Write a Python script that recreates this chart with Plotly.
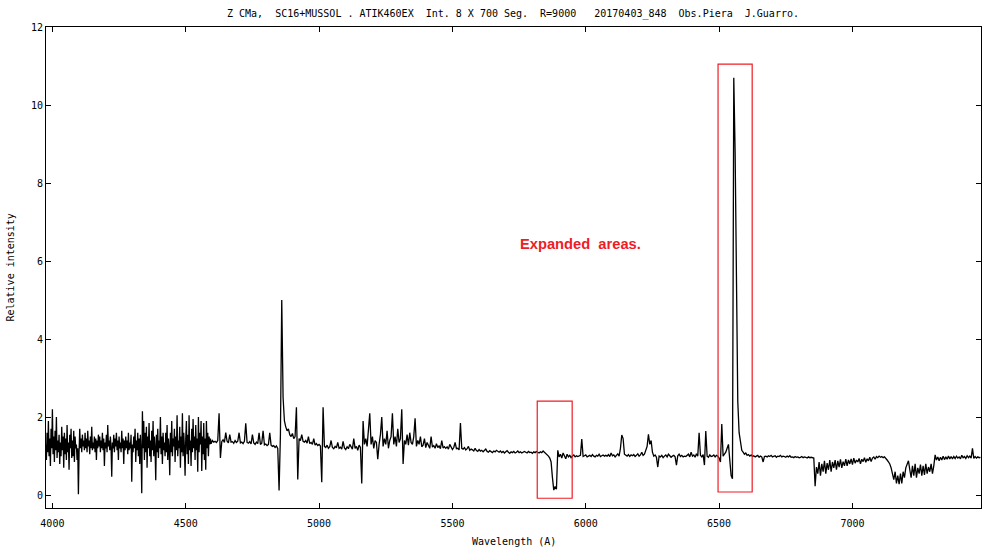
import numpy as np
import plotly.graph_objects as go

# ---- Data ----
# Blue part (noisy, sampled every 2.5 A): 3975.0 ... 4597.5
blue_start, blue_step = 3975.0, 2.5
flux_blue = [
    # 3975-4022.5
    1.3, 0.9, 1.6, 1.1, 1.9, 1.0, 1.45, 0.75, 1.7, 1.2, 2.2, 1.05, 1.5, 0.85, 1.65, 1.15, 2.0, 0.95, 1.4, 1.1,
    # 4025-4072.5
    1.55, 0.8, 1.35, 1.0, 1.75, 1.15, 1.5, 0.7, 1.6, 1.05, 1.45, 0.9, 1.8, 1.1, 1.35, 0.65, 1.55, 1.2, 1.7, 0.95,
    # 4075-4122.5
    1.4, 1.0, 1.65, 0.85, 1.5, 1.2, 1.3, 0.9, 1.2, 0.02, 1.1, 1.7, 1.2, 1.45, 1.1, 1.55, 1.25, 1.4, 1.15, 1.6,
    # 4125-4172.5
    1.2, 1.45, 1.1, 1.65, 1.25, 1.4, 1.05, 1.5, 1.2, 1.75, 1.15, 1.35, 1.2, 1.5, 1.1, 1.45, 0.9, 1.4, 1.2, 1.55,
    # 4175-4222.5
    1.25, 1.5, 1.1, 1.4, 1.2, 1.6, 1.15, 1.45, 0.75, 1.35, 1.2, 1.55, 1.1, 1.8, 1.25, 1.4, 1.15, 1.5, 1.2, 0.47,
    # 4225-4272.5
    1.35, 1.2, 1.55, 1.1, 1.45, 1.25, 1.6, 1.15, 1.4, 0.9, 1.5, 1.2, 1.35, 1.1, 1.65, 1.2, 1.45, 0.8, 1.4, 1.15,
    # 4275-4322.5
    1.5, 1.2, 1.4, 1.05, 1.6, 1.15, 1.35, 1.2, 1.55, 0.34, 1.3, 1.1, 1.5, 1.2, 1.7, 0.85, 1.4, 1.15, 1.6, 1.0,
    # 4325-4372.5
    1.45, 0.8, 1.55, 1.1, 0.05, 2.15, 1.2, 1.9, 0.9, 1.6, 1.1, 1.75, 0.7, 1.5, 1.2, 1.85, 1.0, 1.4, 0.85, 1.65,
    # 4375-4422.5
    1.15, 1.9, 1.0, 1.5, 1.2, 0.38, 1.55, 1.1, 1.7, 0.95, 1.4, 1.2, 2.0, 1.05, 1.5, 0.8, 1.6, 1.15, 1.35, 1.0,
    # 4425-4472.5
    1.6, 1.1, 1.8, 0.9, 1.45, 1.2, 0.51, 1.6, 1.1, 1.9, 1.0, 1.45, 1.25, 1.7, 0.85, 1.5, 1.15, 2.05, 1.0, 1.4,
    # 4475-4522.5
    1.2, 1.75, 0.7, 1.5, 1.1, 2.1, 1.0, 1.6, 1.2, 0.5, 1.45, 1.9, 1.05, 1.55, 0.8, 2.05, 1.15, 1.4, 0.75, 1.7,
    # 4525-4572.5
    1.1, 1.95, 1.2, 1.5, 0.9, 1.8, 1.15, 1.45, 0.6, 2.0, 1.1, 1.6, 1.3, 1.9, 0.62, 1.5, 1.05, 1.85, 0.9, 1.45,
    # 4575-4597.5
    0.65, 1.9, 1.2, 1.6, 1.0, 1.5, 1.3, 1.45, 1.32, 1.4,
]

# Red part (sampled every 5 A): 4600 ... 7480
red_start, red_step = 4600.0, 5.0
flux_red = [
    # 4600-4670
    1.4, 1.36, 1.38, 1.35, 1.4, 2.1, 0.95, 1.37, 1.42, 1.35, 1.6, 1.38, 1.34, 1.55, 1.36,
    # 4675-4770
    1.37, 1.33, 1.4, 1.35, 1.38, 1.6, 1.34, 1.36, 1.32, 1.38, 1.84, 1.35, 1.33, 1.37, 1.31, 1.55, 1.34, 1.3, 1.36, 1.32,
    # 4775-4870
    1.6, 1.3, 1.33, 1.65, 1.29, 1.31, 1.27, 1.3, 1.6, 1.28, 1.25, 1.27, 1.22, 1.26, 1.2, 0.12, 1.55, 5.0, 2.5, 1.9,
    # 4875-4970
    1.75, 1.65, 1.7, 1.55, 1.5, 1.58, 1.45, 1.5, 2.25, 0.4, 1.45, 1.4, 1.55, 1.38, 1.36, 1.4, 1.33, 1.5, 1.32, 1.35,
    # 4975-5070
    1.3, 1.45, 1.28, 1.32, 1.27, 1.3, 1.26, 0.33, 2.25, 1.25, 1.22, 1.28, 1.2, 1.24, 1.4, 1.22, 1.19, 1.25, 1.21, 1.35,
    # 5075-5170
    1.2, 1.23, 1.18, 1.38, 1.21, 1.17, 1.24, 1.19, 1.3, 1.22, 1.18, 1.45, 1.2, 1.25, 1.15, 1.28, 1.22, 0.3, 1.9, 1.3,
    # 5175-5270
    1.45, 1.25, 1.6, 2.1, 1.3, 1.5, 1.2, 1.4, 1.35, 0.92, 1.3, 1.55, 2.0, 1.25, 1.45, 1.3, 1.65, 1.2, 1.4, 1.5,
    # 5275-5370
    2.1, 1.3, 1.5, 1.25, 1.7, 1.35, 1.45, 2.2, 0.8, 1.4, 1.3, 1.55, 1.28, 1.6, 1.35, 1.3, 1.5, 1.97, 1.25, 1.4,
    # 5375-5470
    1.3, 1.5, 1.24, 1.28, 1.45, 1.22, 1.35, 1.25, 1.2, 1.5, 1.23, 1.27, 1.2, 1.32, 1.22, 1.26, 1.19, 1.4, 1.21, 1.24,
    # 5475-5570
    1.2, 1.24, 1.18, 1.3, 1.21, 1.17, 1.22, 1.35, 1.19, 1.2, 1.16, 1.85, 1.2, 1.18, 1.22, 1.16, 1.19, 1.25, 1.15, 1.18,
    # 5575-5670
    1.16, 1.13, 1.2, 1.14, 1.12, 1.17, 1.13, 1.15, 1.11, 1.14, 1.18, 1.12, 1.1, 1.14, 1.12, 1.09, 1.13, 1.11, 1.15, 1.12,
    # 5675-5770
    1.1, 1.13, 1.09, 1.12, 1.08, 1.11, 1.14, 1.1, 1.07, 1.11, 1.09, 1.12, 1.08, 1.1, 1.13, 1.09, 1.11, 1.08, 1.1, 1.12,
    # 5775-5870
    1.1, 1.08, 1.12, 1.09, 1.1, 1.07, 1.11, 1.09, 1.12, 1.1, 1.08, 1.11, 1.09, 1.13, 1.1, 1.08, 1.05, 1.0, 0.95, 0.85,
    # 5875-5970
    0.45, 0.13, 0.22, 0.15, 1.15, 0.98, 1.05, 0.95, 1.08, 1.0, 0.93, 1.05, 0.98, 1.02, 0.96, 1.0, 1.03, 0.98, 1.01, 0.99,
    # 5975-6070
    1.0, 1.02, 1.44, 0.99, 1.01, 1.03, 0.98, 1.0, 1.02, 0.99, 1.04, 1.0, 0.98, 1.02, 1.0, 1.05, 0.99, 1.01, 1.03, 1.0,
    # 6075-6170
    1.02, 1.0, 1.04, 0.99, 1.08, 1.01, 1.03, 0.98, 1.02, 1.06, 1.0, 1.2, 1.54, 1.45, 1.05, 1.02, 1.0, 1.04, 0.99, 1.03,
    # 6175-6270
    1.01, 1.04, 0.99, 1.02, 1.06, 1.0, 1.03, 1.1, 1.02, 1.05, 1.15, 1.25, 1.56, 1.3, 1.4, 1.1, 1.0, 1.03, 0.97, 0.72,
    # 6275-6370
    1.0, 0.98, 1.02, 0.96, 1.0, 1.03, 0.98, 1.05, 1.01, 0.97, 1.0, 1.02, 0.98, 0.77, 1.01, 1.05, 0.99, 1.02, 0.98, 1.0,
    # 6375-6470
    0.99, 1.02, 1.05, 0.98, 1.1, 1.0, 1.03, 0.97, 1.06, 1.0, 1.6, 1.02, 0.98, 1.04, 0.77, 1.64, 1.0, 0.97, 1.03, 0.99,
    # 6475-6570
    1.0, 1.03, 0.98, 1.02, 1.0, 0.95, 0.85, 1.82, 1.0, 1.05, 1.1, 1.2, 1.3, 0.9, 0.5, 0.42, 10.7, 8.8, 4.7, 2.4,
    # 6575-6670
    1.6, 1.3, 1.15, 1.1, 1.05, 1.08, 1.02, 1.04, 1.0, 1.03, 0.99, 1.01, 0.98, 1.0, 1.02, 0.97, 1.0, 0.98, 0.85, 0.99,
    # 6675-6770
    1.0, 0.98, 1.01, 0.99, 1.02, 0.98, 1.0, 1.01, 0.97, 1.0, 0.99, 1.02, 0.98, 1.0, 0.99, 0.97, 1.0, 0.98, 1.01, 0.97,
    # 6775-6870
    0.98, 0.96, 0.99, 0.97, 0.98, 0.96, 0.97, 0.99, 0.96, 0.98, 0.97, 0.95, 0.98, 0.96, 0.97, 0.96, 0.95, 0.23, 0.72, 0.55,
    # 6875-6970
    0.85, 0.5, 0.8, 0.6, 0.88, 0.55, 0.82, 0.65, 0.9, 0.6, 0.85, 0.7, 0.9, 0.65, 0.88, 0.72, 0.92, 0.7, 0.86, 0.75,
    # 6975-7070
    0.92, 0.75, 0.9, 0.8, 0.93, 0.78, 0.95, 0.82, 0.9, 0.85, 0.94, 0.8, 0.92, 0.86, 0.96, 0.84, 0.93, 0.88, 0.97, 0.86,
    # 7075-7170
    0.95, 0.98, 0.92, 0.99, 0.96, 1.0, 0.97, 0.99, 0.96, 0.98, 0.95, 0.9, 0.85, 0.8, 0.7, 0.55, 0.4, 0.6, 0.3, 0.5,
    # 7175-7270
    0.28, 0.55, 0.3, 0.6, 0.45, 0.7, 0.8, 0.88, 0.65, 0.45, 0.75, 0.5, 0.8, 0.45, 0.7, 0.55, 0.78, 0.5, 0.75, 0.52,
    # 7275-7370
    0.8, 0.55, 0.72, 0.6, 0.8, 0.55, 0.75, 1.03, 0.9, 0.98, 0.88, 0.97, 0.9, 1.0, 0.91, 0.98, 0.92, 1.0, 0.93, 0.99,
    # 7375-7470
    0.93, 0.99, 0.94, 1.0, 0.95, 0.98, 0.93, 1.02, 0.96, 0.99, 0.94, 1.01, 0.96, 1.0, 0.95, 1.2, 0.94, 0.99, 0.95, 0.98,
    # 7475-7480
    0.96, 0.97,
]

wavelength = np.concatenate([
    blue_start + blue_step * np.arange(len(flux_blue)),
    red_start + red_step * np.arange(len(flux_red)),
])
flux = flux_blue + flux_red

x_ticks = [4000, 4500, 5000, 5500, 6000, 6500, 7000]
y_ticks = [0, 2, 4, 6, 8, 10, 12]

# expanded areas (wavelength from, to, intensity from, to)
expanded_areas = [(5818, 5949, -0.08, 2.41), (6496, 6624, 0.08, 11.05)]

title_text = "Z CMa,  SC16+MUSSOL . ATIK460EX  Int. 8 X 700 Seg.  R=9000   20170403_848  Obs.Piera  J.Guarro."

MONO = "DejaVu Sans Mono"
RED = "#ee1c25"

fig = go.Figure()
fig.add_trace(go.Scatter(x=wavelength, y=flux, mode="lines",
                         line=dict(color="black", width=1.3), showlegend=False))

for (x0, x1, y0, y1) in expanded_areas:
    fig.add_shape(type="rect", x0=x0, x1=x1, y0=y0, y1=y1, xref="x", yref="y",
                  line=dict(color=RED, width=1.2), fillcolor="rgba(0,0,0,0)")

fig.add_annotation(x=5980, y=6.44, xref="x", yref="y", text="<b>Expanded  areas.</b>",
                   showarrow=False, font=dict(family="Liberation Sans", size=14.7, color=RED))

fig.add_annotation(x=0.5, y=0, xref="paper", yref="paper", yshift=-33, yanchor="middle",
                   text="Wavelength (A)", showarrow=False, font=dict(family=MONO, size=10, color="black"))
fig.add_annotation(x=0, y=0.5, xref="paper", yref="paper", xshift=-36, xanchor="center",
                   text="Relative intensity", textangle=-90, showarrow=False,
                   font=dict(family=MONO, size=10, color="black"))

axis_common = dict(showline=True, linecolor="black", linewidth=1, mirror="ticks",
                   ticks="inside", ticklen=5, tickcolor="black", tickwidth=1,
                   showgrid=False, zeroline=False,
                   tickfont=dict(family=MONO, size=10, color="black"))

fig.update_layout(
    width=1000, height=550,
    margin=dict(l=46, r=19, t=27, b=42),
    paper_bgcolor="white", plot_bgcolor="white",
    title=dict(text=title_text, x=0.513, xanchor="center", y=1 - 13 / 550, yanchor="middle",
               font=dict(family=MONO, size=10, color="black")),
    xaxis=dict(range=[3976, 7482], tickvals=x_ticks, ticklabelstandoff=6, **axis_common),
    yaxis=dict(range=[-0.33, 12], tickvals=y_ticks, **axis_common),
)

fig.write_html("out.html", config={"displayModeBar": False},
               post_script="document.body.style.margin='0';")
